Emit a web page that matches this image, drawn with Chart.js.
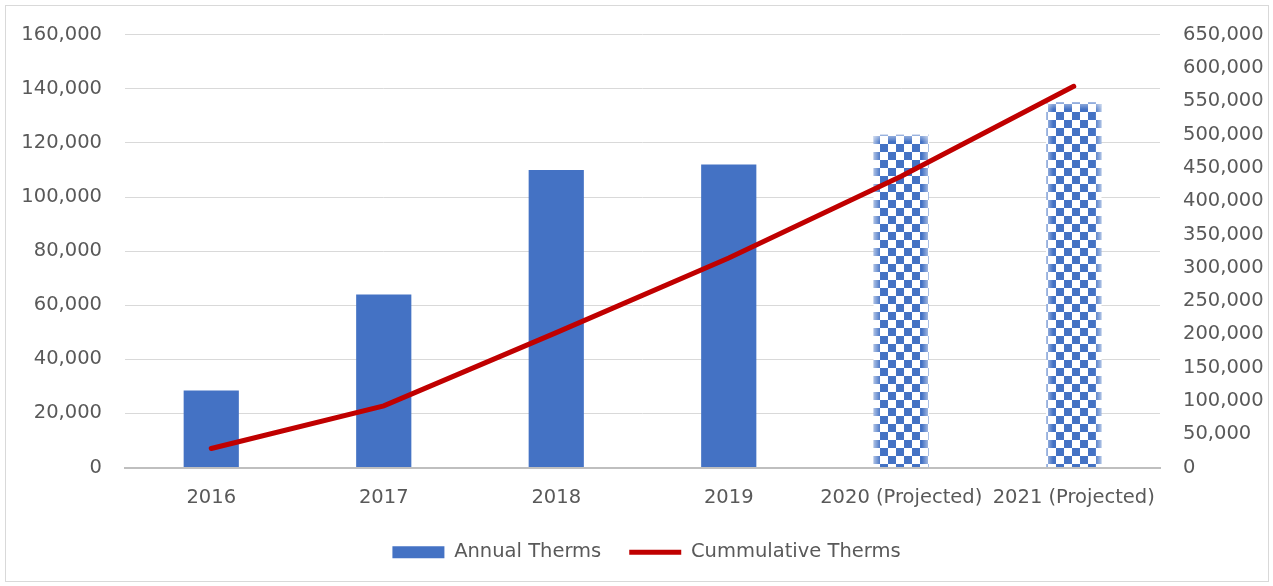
<!DOCTYPE html>
<html>
<head>
<meta charset="utf-8">
<script src="https://cdn.jsdelivr.net/npm/chart.js@4/dist/chart.umd.min.js"></script>
<style>
  html, body { margin: 0; padding: 0; background: #fff; }
  #wrap { position: relative; width: 1273px; height: 586px; }
  #frame { position: absolute; left: 5px; top: 5px; width: 1262px; height: 575px; border: 1px solid #d9d9d9; }
  canvas { position: absolute; left: 0; top: 0; }
</style>
</head>
<body>
<div id="wrap">
  <div id="frame"></div>
  <canvas id="chart" width="1273" height="586"></canvas>
</div>
<script>
// Years, with the last two being projections
const categories = ['2016', '2017', '2018', '2019', '2020 (Projected)', '2021 (Projected)'];
const projected = [false, false, false, false, true, true];
// Therms saved each year
const annualTherms = [28500, 64000, 110000, 112000, 123000, 135000];
// Running total of therms
const cumulativeTherms = [28500, 92500, 202500, 314500, 437500, 572500];

const BLUE = '#4472C4';
const RED = '#C00000';
const TEXT = '#595959';

// Checkerboard fill for projected bars
function checkerPattern(ctx) {
  const c = document.createElement('canvas');
  const s = 8;
  c.width = s * 2; c.height = s * 2;
  const g = c.getContext('2d');
  g.fillStyle = '#ffffff';
  g.fillRect(0, 0, s * 2, s * 2);
  g.fillStyle = BLUE;
  g.fillRect(0, 0, s, s);
  g.fillRect(s, s, s, s);
  return ctx.createPattern(c, 'repeat');
}

const canvas = document.getElementById('chart');
const ctx = canvas.getContext('2d');
const pattern = checkerPattern(ctx);

// Soft light edges on the patterned bars
const edgeGlow = {
  id: 'edgeGlow',
  afterDatasetDraw(chart, args) {
    if (args.index !== 1) return;
    const meta = chart.getDatasetMeta(1);
    const c = chart.ctx;
    meta.data.forEach((bar, i) => {
      if (!projected[i]) return;
      const { x, y, base, width } = bar.getProps(['x', 'y', 'base', 'width']);
      const l = x - width / 2, r = x + width / 2, e = 7;
      c.save();
      let g = c.createLinearGradient(l, 0, l + e, 0);
      g.addColorStop(0, 'rgba(255,255,255,0.55)');
      g.addColorStop(1, 'rgba(255,255,255,0)');
      c.fillStyle = g; c.fillRect(l, y, e, base - y);
      g = c.createLinearGradient(r, 0, r - e, 0);
      g.addColorStop(0, 'rgba(255,255,255,0.55)');
      g.addColorStop(1, 'rgba(255,255,255,0)');
      c.fillStyle = g; c.fillRect(r - e, y, e, base - y);
      g = c.createLinearGradient(0, y, 0, y + e);
      g.addColorStop(0, 'rgba(255,255,255,0.5)');
      g.addColorStop(1, 'rgba(255,255,255,0)');
      c.fillStyle = g; c.fillRect(l, y, width, e);
      c.restore();
    });
  }
};

const FONT_SIZE = 19.5;
Chart.defaults.font.family = '"DejaVu Sans", sans-serif';
Chart.defaults.font.size = FONT_SIZE;
Chart.defaults.color = TEXT;

new Chart(ctx, {
  data: {
    labels: categories,
    datasets: [
      {
        type: 'line',
        label: 'Cummulative Therms',
        data: cumulativeTherms,
        yAxisID: 'y1',
        borderColor: RED,
        backgroundColor: RED,
        borderWidth: 5,
        pointRadius: 0,
        tension: 0,
        borderCapStyle: 'round',
        order: 0
      },
      {
        type: 'bar',
        label: 'Annual Therms',
        data: annualTherms,
        yAxisID: 'y',
        backgroundColor: projected.map(p => p ? pattern : BLUE),
        borderWidth: 0,
        barPercentage: 0.32,
        categoryPercentage: 1,
        order: 1
      }
    ]
  },
  options: {
    responsive: false,
    animation: false,
    layout: { padding: { top: 34, bottom: 14, left: 20, right: 0 } },
    plugins: {
      tooltip: { enabled: false },
      legend: {
        position: 'bottom',
        reverse: true,
        labels: {
          usePointStyle: true,
          pointStyleWidth: 52,
          boxHeight: 12,
          padding: 28,
          color: TEXT,
          font: { size: FONT_SIZE },
          generateLabels(chart) {
            const items = Chart.defaults.plugins.legend.labels.generateLabels(chart);
            items.forEach(it => {
              if (it.datasetIndex === 0) { it.pointStyle = 'line'; it.lineWidth = 5; it.strokeStyle = RED; }
              else { it.pointStyle = 'rect'; it.fillStyle = BLUE; it.lineWidth = 0; it.strokeStyle = BLUE; }
            });
            return items;
          }
        }
      }
    },
    scales: {
      x: {
        grid: { display: false, drawTicks: false },
        border: { display: true, color: '#bfbfbf', width: 2 },
        ticks: { padding: 19, color: TEXT, maxRotation: 0, autoSkip: false },
        afterFit(s) { s.height = 47; }
      },
      y: {
        position: 'left',
        min: 0, max: 160000,
        grid: { color: '#d9d9d9', lineWidth: 1, drawTicks: false },
        border: { display: false },
        ticks: { stepSize: 20000, padding: 23, color: TEXT,
          callback: v => v.toLocaleString('en-US') },
        afterFit(s) { s.width = 105; }
      },
      y1: {
        position: 'right',
        min: 0, max: 650000,
        grid: { display: false, drawTicks: false },
        border: { display: false },
        ticks: { stepSize: 50000, padding: 23, color: TEXT,
          callback: v => v.toLocaleString('en-US') },
        afterFit(s) { s.width = 113; }
      }
    }
  },
  plugins: [edgeGlow]
});
</script>
</body>
</html>
